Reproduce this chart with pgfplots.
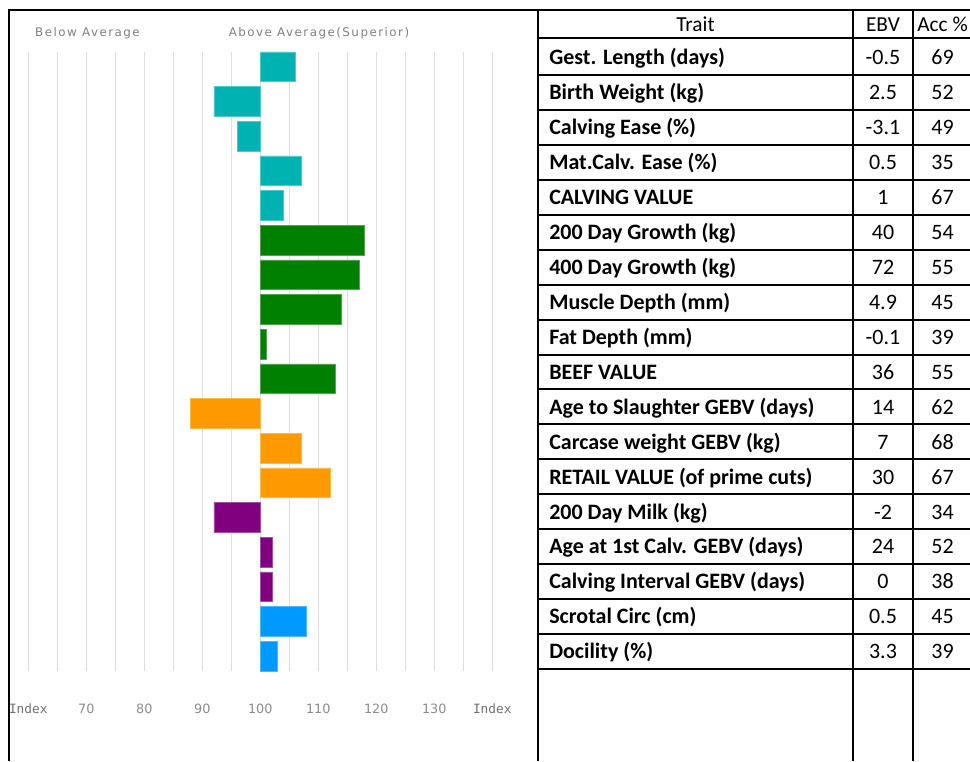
\documentclass[border=0pt]{standalone}
\usepackage{fontspec}
\setmainfont{Carlito}
\newfontfamily\chartfont{DejaVu Sans}
\newfontfamily\chartfontsp[LetterSpace=12.5]{DejaVu Sans}
\newfontfamily\chartmono{DejaVu Sans Mono}
\usepackage{pgfplots}
\pgfplotsset{compat=1.18}
\definecolor{cteal}{RGB}{0,178,178}
\definecolor{cgreen}{RGB}{0,128,0}
\definecolor{corange}{RGB}{255,153,0}
\definecolor{cpurple}{RGB}{128,0,128}
\definecolor{cblue}{RGB}{0,153,255}
\definecolor{cgrid}{RGB}{222,222,222}
\definecolor{ctext}{RGB}{128,128,128}
\definecolor{ctick}{RGB}{140,140,140}
\definecolor{cindex}{RGB}{112,112,112}
\begin{document}
\begin{tikzpicture}
\begin{axis}[
  at={(21.225pt,67.5pt)}, anchor=south west,
  scale only axis, width=348pt, height=464.25pt,
  xmin=-40, xmax=40, ymin=0.572, ymax=18.428,
  xtick={-40,-30,...,40},
  xticklabels={{\color{cindex}\chartmono Index},70,80,90,100,110,120,130,{\color{cindex}\chartmono Index}},
  minor x tick num=1,
  xmajorgrids, xminorgrids,
  major grid style={cgrid, line width=0.9pt},
  minor grid style={cgrid, line width=0.9pt},
  ytick=\empty,
  axis line style={draw=none},
  major tick length=0pt, minor tick length=0pt,
  xticklabel style={anchor=center, yshift=-28.5pt, font=\chartfont\fontsize{9.6}{11}\selectfont, text=ctick},
  /pgf/number format/assume math mode=true,
  x filter/.expression={x-100},
  every axis plot/.append style={xbar, bar width=0.857, bar shift=0pt, line width=0.6pt},
]
% index values (100 = average); row 18 = top trait
\addplot[fill=cteal, draw=cteal!70!white] coordinates {(106,18) (92,17) (96,16) (107,15) (104,14)};
\addplot[fill=cgreen, draw=cgreen!70!white] coordinates {(118,13) (117,12) (114,11) (101,10) (113,9)};
\addplot[fill=corange, draw=corange!70!white] coordinates {(88,8) (107,7) (112,6)};
\addplot[fill=cpurple, draw=cpurple!70!white] coordinates {(92,5) (102,4) (102,3)};
\addplot[fill=cblue, draw=cblue!70!white] coordinates {(108,2) (103,1)};
\end{axis}
\begin{scope}[x=0.75pt,y=0.75pt]
  \node[anchor=center, text=ctext, font=\chartfontsp\fontsize{8.9}{10}\selectfont] at (87.5,727.7) {Below Average};
  \node[anchor=center, text=ctext, font=\chartfontsp\fontsize{8.9}{10}\selectfont] at (319,727.7) {Above Average(Superior)};
  % frame and table grid
  \draw[line width=1.5pt] (8.5,0) -- (8.5,751) -- (990,751);
  \foreach \xx in {538,853.3,913,972} \draw[line width=1.5pt] (\xx,0) -- (\xx,751);
  \draw[line width=1.5pt] (538,723) -- (990,723);
  \foreach \k in {0,...,17}{
    \pgfmathsetmacro\yy{686-34.94*\k}
    \draw[line width=1.5pt] (538,\yy) -- (990,\yy);
  }
  % header
  \node[anchor=base, font=\fontsize{16}{18}\selectfont] at (695.5,729.3) {Trait};
  \node[anchor=base, font=\fontsize{16}{18}\selectfont] at (883,729.3) {EBV};
  \node[anchor=base, font=\fontsize{16}{18}\selectfont] at (942.5,729.3) {Acc \%};
  \foreach \lab/\ebv/\acc [count=\k from 0] in {
    Gest. Length (days)/-0.5/69,
    Birth Weight (kg)/2.5/52,
    Calving Ease (\%)/-3.1/49,
    Mat.Calv. Ease (\%)/0.5/35,
    CALVING VALUE/1/67,
    200 Day Growth (kg)/40/54,
    400 Day Growth (kg)/72/55,
    Muscle Depth (mm)/4.9/45,
    Fat Depth (mm)/-0.1/39,
    BEEF VALUE/36/55,
    Age to Slaughter GEBV (days)/14/62,
    Carcase weight GEBV (kg)/7/68,
    RETAIL VALUE (of prime cuts)/30/67,
    200 Day Milk (kg)/-2/34,
    Age at 1st Calv. GEBV (days)/24/52,
    Calving Interval GEBV (days)/0/38,
    Scrotal Circ (cm)/0.5/45,
    Docility (\%)/3.3/39}{
    \pgfmathsetmacro\yy{696.2-34.94*\k}
    \node[anchor=base west, inner sep=0pt, font=\bfseries\fontsize{16.5}{18}\selectfont] at (549,\yy) {\lab};
    \node[anchor=base, inner sep=0pt, font=\fontsize{16.5}{18}\selectfont] at (883,\yy) {\ebv};
    \node[anchor=base, inner sep=0pt, font=\fontsize{16.5}{18}\selectfont] at (942.5,\yy) {\acc};
  }
  \pgfresetboundingbox
  \useasboundingbox (0,0) rectangle (970,761);
\end{scope}
\end{tikzpicture}
\end{document}
